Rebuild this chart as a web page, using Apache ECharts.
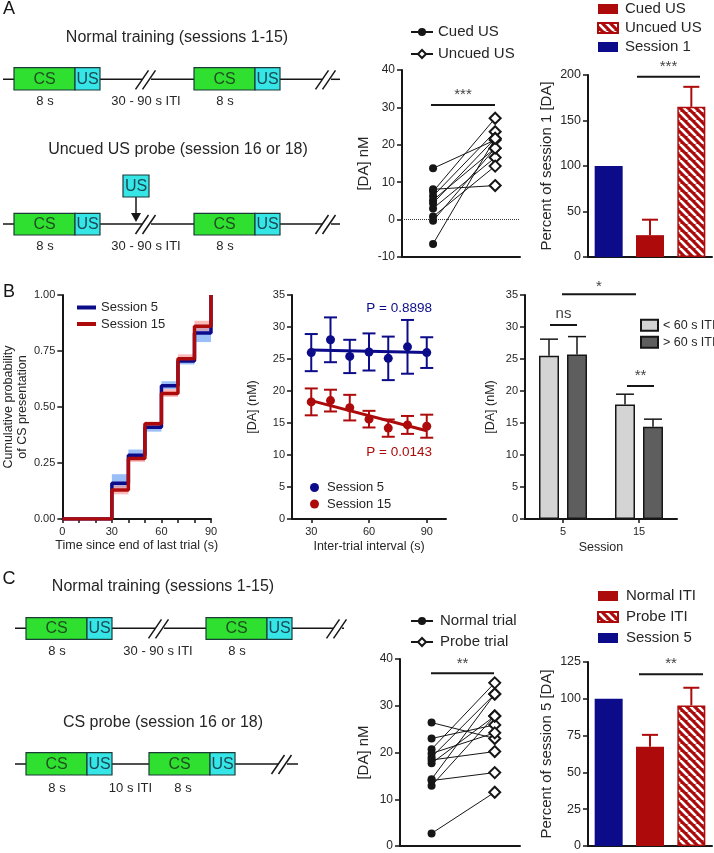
<!DOCTYPE html>
<html><head><meta charset="utf-8">
<script src="https://cdn.jsdelivr.net/npm/echarts@6/dist/echarts.min.js"></script>
<style>html,body{margin:0;padding:0;background:#fff}#c{width:714px;height:853px}</style>
</head><body><div id="c"></div>
<script>
// ================= DATA =================
// Panel A (middle): paired [DA] nM, cued vs uncued US
const aPairCued   = [13.7, 8.1, 7.5, 6.3, 5.2, 4.4, 3.0, 0.8, -0.3, -6.5];
const aPairUncued = [21.3, 9.1, 27.1, 23.5, 19.1, 21.7, 16.6, 14.3, 19.1, 21.7];
// Panel A (right): percent of session 1
const aBarCats = ['Session 1', 'Cued US', 'Uncued US'];
const aBarVals = [100, 24, 165];
const aBarErr  = [0, 17, 22];
// Panel B (left): cumulative probability of CS presentation
const bStepX   = [0, 30, 40, 50, 60, 70, 80, 90];
const bStepS5  = [0, 0.16, 0.285, 0.41, 0.595, 0.705, 0.83, 1.0];
const bStepS15 = [0, 0.13, 0.27, 0.425, 0.56, 0.715, 0.86, 1.0];
const bBandX0  = [30, 40, 50, 60, 70, 80];
const bBandX1  = [40, 50, 60, 70, 80, 90];
const bBandS5Lo  = [0.14, 0.27, 0.39, 0.58, 0.69, 0.79];
const bBandS5Hi  = [0.20, 0.31, 0.43, 0.615, 0.72, 0.855];
const bBandS15Lo = [0.11, 0.255, 0.405, 0.545, 0.70, 0.84];
const bBandS15Hi = [0.15, 0.29, 0.435, 0.58, 0.735, 0.885];
// Panel B (middle): [DA] vs inter-trial interval
const bItiX    = [30, 40, 50, 60, 70, 80, 90];
const bS5Mean  = [26.0, 28.0, 25.4, 26.1, 25.1, 26.9, 26.0];
const bS5Sem   = [2.9, 3.5, 2.6, 2.9, 3.4, 4.2, 2.4];
const bS15Mean = [18.3, 18.5, 17.4, 15.6, 14.2, 14.7, 14.5];
const bS15Sem  = [2.1, 1.7, 2.0, 1.3, 1.35, 1.4, 1.8];
const bFitX    = [30, 90];
const bFitS5   = [26.4, 26.0];
const bFitS15  = [18.5, 13.8];
const bPText   = ['P = 0.8898', 'P = 0.0143'];
// Panel B (right): [DA] by session and ITI
const bSessions = ['5', '15'];
const bShort    = [25.5, 17.9];
const bShortErr = [2.6, 1.6];
const bLong     = [25.7, 14.4];
const bLongErr  = [2.8, 1.2];
// Panel C (middle): paired [DA] nM, normal vs probe trial
const cNormal = [26.4, 23.0, 20.7, 19.8, 19.0, 18.4, 17.7, 14.3, 14.0, 12.9, 2.7];
const cProbe  = [23.0, 25.9, 34.9, 24.2, 32.5, 20.2, 27.8, 32.5, 15.7, 27.8, 11.5];
// Panel C (right): percent of session 5
const cBarCats = ['Session 5', 'Normal ITI', 'Probe ITI'];
const cBarVals = [100, 67.5, 95.5];
const cBarErr  = [0, 8, 12];

// ================= STYLE =================
const FONT = '"Liberation Sans", Arial, sans-serif';
const NAVY = '#0c0c8a', RED = '#ad0b0b', INK = '#161616', TXT = '#262626';
const CS_FILL = '#30e030', US_FILL = '#36e6e6', BOX_EDGE = '#1d3a3a';
const LABELS = {
  aCuedLeg: 'Cued US', aUncuedLeg: 'Uncued US',
  aBarS1: 'Session 1', aBarCued: 'Cued US', aBarUncued: 'Uncued US',
  bS5Line: 'Session 5', bS15Line: 'Session 15',
  bS5Pts: 'Session 5', bS15Pts: 'Session 15',
  bShortBar: '< 60 s ITI', bLongBar: '> 60 s ITI',
  cNormLeg: 'Normal trial', cProbeLeg: 'Probe trial',
  cBarS5: 'Session 5', cBarNorm: 'Normal ITI', cBarProbe: 'Probe ITI'
};

function hatch() {
  const c = document.createElement('canvas');
  c.width = 8; c.height = 8;
  const g = c.getContext('2d');
  g.fillStyle = RED; g.fillRect(0, 0, 8, 8);
  g.strokeStyle = '#ffffff'; g.lineWidth = 2.6;
  for (const k of [-8, 0, 8]) { g.beginPath(); g.moveTo(k, 0); g.lineTo(k + 8, 8); g.stroke(); }
  return c;
}
const HATCH = { image: hatch(), repeat: 'repeat' };

const axLine = { show: true, onZero: false, lineStyle: { color: INK, width: 2 } };
const yTick = { show: true, length: 5, lineStyle: { color: INK, width: 1.5 } };
function yAx(grid, min, max, interval, name, gap, fs, lblSize, fmt) {
  return {
    type: 'value', gridIndex: grid, min, max, interval,
    axisLine: axLine, axisTick: yTick, splitLine: { show: false },
    axisLabel: { color: TXT, fontSize: lblSize, fontFamily: FONT, margin: 7, formatter: fmt },
    name, nameLocation: 'middle', nameRotate: 90, nameGap: gap,
    nameTextStyle: { color: TXT, fontSize: fs, fontFamily: FONT, lineHeight: fs + 2 }
  };
}

// ================= GRAPHIC (diagrams & annotations) =================
const G = [];
function txt(x, y, s, size, color, align) {
  G.push({ type: 'text', x: x, y: y, z: 100,
    style: { text: s, font: size + 'px ' + FONT, fill: color || TXT, align: align || 'center', verticalAlign: 'middle' } });
}
function ln(x1, y1, x2, y2, w, color) {
  G.push({ type: 'line', z: 90, shape: { x1, y1, x2, y2 }, style: { stroke: color || INK, lineWidth: w || 1.5 } });
}
function box(x1, x2, y1, y2, fill, label, tcolor) {
  G.push({ type: 'rect', z: 95, shape: { x: x1, y: y1, width: x2 - x1, height: y2 - y1 },
    style: { fill, stroke: BOX_EDGE, lineWidth: 1.2 } });
  txt((x1 + x2) / 2, (y1 + y2) / 2 + 0.5, label, 16, tcolor);
}
function slashes(c, y) {
  ln(c - 10.5, y + 10, c + 2.5, y - 9, 1.5);
  ln(c - 3.5, y + 10, c + 9.5, y - 9, 1.5);
}
function timeline(y, xStart, xEnd, breaks) {
  let x = xStart;
  for (const b of breaks) { ln(x, y, b - 4, y, 1.5); slashes(b, y); x = b + 5; }
  if (x < xEnd) ln(x, y, xEnd, y, 1.5);
}
function trial(csX, y1, y2) {
  box(csX, csX + 61, y1, y2, CS_FILL, 'CS', '#1f4f1f');
  box(csX + 61, csX + 86, y1, y2, US_FILL, 'US', '#1a4a55');
}

// Panel letters
txt(9, 9, 'A', 18, INK); txt(9, 292, 'B', 18, INK); txt(9, 579, 'C', 18, INK);

// Panel A diagram
txt(177, 37.5, 'Normal training (sessions 1-15)', 16);
timeline(79.3, 3, 340, [146, 326]);
trial(14, 67.7, 90); trial(194, 67.7, 90);
txt(45, 101.7, '8 s', 13); txt(146, 101.7, '30 - 90 s ITI', 13); txt(225, 101.7, '8 s', 13);
txt(178, 150, 'Uncued US probe (session 16 or 18)', 16);
box(123, 149, 175, 197, US_FILL, 'US', '#1a4a55');
ln(136, 197, 136, 214, 1.5);
G.push({ type: 'polygon', z: 96, shape: { points: [[131, 213], [141, 213], [136, 222]] }, style: { fill: INK } });
timeline(224, 3, 340, [146, 326]);
trial(14, 213.3, 235); trial(194, 213.3, 235);
txt(45, 246.7, '8 s', 13); txt(146, 246.7, '30 - 90 s ITI', 13); txt(225, 246.7, '8 s', 13);

// Panel C diagram
txt(163, 586.7, 'Normal training (sessions 1-15)', 16);
timeline(628.3, 15, 344, [159, 337]);
trial(26, 617.7, 639.3); trial(206, 617.7, 639.3);
txt(57, 651, '8 s', 13); txt(158, 651, '30 - 90 s ITI', 13); txt(237, 651, '8 s', 13);
txt(163, 722.7, 'CS probe (session 16 or 18)', 16);
timeline(764, 15, 298, [282]);
trial(26, 752.7, 775); trial(149, 752.7, 775);
txt(57, 788.3, '8 s', 13); txt(130.5, 788.3, '10 s ITI', 13); txt(183, 788.3, '8 s', 13);

// Significance annotations
function sig(x1, x2, y, s, ty) { ln(x1, y, x2, y, 2, INK); txt((x1 + x2) / 2, ty, s, 15, '#444'); }
sig(431, 495, 105, '***', 95);
sig(637, 700, 76.7, '***', 67);
sig(562, 636, 294.3, '*', 287);
sig(550, 577, 325, 'ns', 314);
sig(627, 654, 386, '**', 376);
sig(431, 494, 673.3, '**', 664);
sig(639, 703, 674.3, '**', 664);
// P values
txt(432, 308, bPText[0], 13.5, NAVY, 'right');
txt(432, 452, bPText[1], 13.5, RED, 'right');

// ================= SERIES HELPERS =================
function errSeries(xi, yi, data, offset, capW, color, both, width) {
  return {
    type: 'custom', xAxisIndex: xi, yAxisIndex: yi, z: 6, silent: true, data,
    renderItem: function (p, api) {
      const x = api.value(0), y = api.value(1), e = api.value(2);
      const top = api.coord([x, y + e]);
      const bot = api.coord([x, both ? y - e : y]);
      const cx = top[0] + offset;
      const st = { stroke: color, lineWidth: width || 2 };
      const ch = [
        { type: 'line', shape: { x1: cx, y1: top[1], x2: cx, y2: bot[1] }, style: st },
        { type: 'line', shape: { x1: cx - capW / 2, y1: top[1], x2: cx + capW / 2, y2: top[1] }, style: st }
      ];
      if (both) ch.push({ type: 'line', shape: { x1: cx - capW / 2, y1: bot[1], x2: cx + capW / 2, y2: bot[1] }, style: st });
      return { type: 'group', children: ch };
    }
  };
}
function bandSeries(xi, yi, lo, hi, color) {
  return {
    type: 'custom', xAxisIndex: xi, yAxisIndex: yi, z: 1, silent: true,
    data: bBandX0.map((x, i) => [x, bBandX1[i], lo[i], hi[i]]),
    renderItem: function (p, api) {
      const a = api.coord([api.value(0), api.value(3)]);
      const b = api.coord([api.value(1), api.value(2)]);
      return { type: 'rect', shape: { x: a[0], y: a[1], width: b[0] - a[0], height: b[1] - a[1] }, style: { fill: color } };
    }
  };
}

const series = [];
// ---- A middle ----
aPairCued.forEach((v, i) => series.push({
  type: 'line', xAxisIndex: 0, yAxisIndex: 0, symbol: 'none', silent: true, z: 2,
  data: [[0, v], [1, aPairUncued[i]]], lineStyle: { color: INK, width: 1 }
}));
series.push({ type: 'line', name: 'aCuedLeg', xAxisIndex: 0, yAxisIndex: 0, data: [], symbol: 'circle', symbolSize: 8,
  itemStyle: { color: INK }, lineStyle: { color: INK, width: 1.5 } });
series.push({ type: 'line', name: 'aUncuedLeg', xAxisIndex: 0, yAxisIndex: 0, data: [], symbol: 'diamond', symbolSize: 11,
  itemStyle: { color: '#fff', borderColor: INK, borderWidth: 2 }, lineStyle: { color: INK, width: 1.5 } });
series.push({ type: 'scatter', xAxisIndex: 0, yAxisIndex: 0, z: 5, symbol: 'circle', symbolSize: 8,
  data: aPairCued.map(v => [0, v]), itemStyle: { color: INK, opacity: 1 },
  markLine: { silent: true, symbol: 'none', label: { show: false }, lineStyle: { type: 'dotted', color: '#333', width: 1 }, data: [{ yAxis: 0 }] } });
series.push({ type: 'scatter', xAxisIndex: 0, yAxisIndex: 0, z: 5, symbol: 'diamond', symbolSize: 11,
  data: aPairUncued.map(v => [1, v]), itemStyle: { color: '#fff', borderColor: INK, borderWidth: 2, opacity: 1 } });

// ---- A right ----
function threeBars(xi, yi, names, vals) {
  const styles = [{ color: NAVY }, { color: RED }, { color: HATCH, borderColor: RED, borderWidth: 1.5 }];
  names.forEach((n, k) => series.push({
    type: 'bar', name: n, xAxisIndex: xi, yAxisIndex: yi, barWidth: 28, barGap: '-100%', z: 3,
    data: vals.map((v, j) => (j === k ? v : '-')), itemStyle: styles[k]
  }));
}
threeBars(1, 1, ['aBarS1', 'aBarCued', 'aBarUncued'], aBarVals);
series.push(errSeries(1, 1, [[1, aBarVals[1], aBarErr[1]], [2, aBarVals[2], aBarErr[2]]], 0, 16, RED, false, 2));

// ---- B left ----
series.push(bandSeries(2, 2, bBandS5Lo, bBandS5Hi, 'rgba(120,170,245,0.75)'));
series.push(bandSeries(2, 2, bBandS15Lo, bBandS15Hi, 'rgba(245,140,140,0.6)'));
series.push({ type: 'line', name: 'bS5Line', xAxisIndex: 2, yAxisIndex: 2, step: 'end', symbol: 'none', z: 3,
  data: bStepX.map((x, i) => [x, bStepS5[i]]), lineStyle: { color: NAVY, width: 3.5 }, itemStyle: { color: NAVY } });
series.push({ type: 'line', name: 'bS15Line', xAxisIndex: 2, yAxisIndex: 2, step: 'end', symbol: 'none', z: 4,
  data: bStepX.map((x, i) => [x, bStepS15[i]]), lineStyle: { color: RED, width: 3.5 }, itemStyle: { color: RED } });

// ---- B middle ----
series.push(errSeries(3, 3, bItiX.map((x, i) => [x, bS5Mean[i], bS5Sem[i]]), 0, 13, NAVY, true, 2));
series.push(errSeries(3, 3, bItiX.map((x, i) => [x, bS15Mean[i], bS15Sem[i]]), 0, 13, RED, true, 2));
series.push({ type: 'line', xAxisIndex: 3, yAxisIndex: 3, symbol: 'none', silent: true, z: 4,
  data: bFitX.map((x, i) => [x, bFitS5[i]]), lineStyle: { color: NAVY, width: 3 } });
series.push({ type: 'line', xAxisIndex: 3, yAxisIndex: 3, symbol: 'none', silent: true, z: 4,
  data: bFitX.map((x, i) => [x, bFitS15[i]]), lineStyle: { color: RED, width: 3 } });
series.push({ type: 'scatter', name: 'bS5Pts', xAxisIndex: 3, yAxisIndex: 3, symbolSize: 9, z: 7,
  data: bItiX.map((x, i) => [x, bS5Mean[i]]), itemStyle: { color: NAVY, opacity: 1 } });
series.push({ type: 'scatter', name: 'bS15Pts', xAxisIndex: 3, yAxisIndex: 3, symbolSize: 9, z: 7,
  data: bItiX.map((x, i) => [x, bS15Mean[i]]), itemStyle: { color: RED, opacity: 1 } });

// ---- B right ----
series.push({ type: 'bar', name: 'bShortBar', xAxisIndex: 4, yAxisIndex: 4, barWidth: 20, barGap: '40%', z: 3,
  data: bShort, itemStyle: { color: '#d4d4d4', borderColor: INK, borderWidth: 1.5 } });
series.push({ type: 'bar', name: 'bLongBar', xAxisIndex: 4, yAxisIndex: 4, barWidth: 20, barGap: '40%', z: 3,
  data: bLong, itemStyle: { color: '#5e5e5e', borderColor: INK, borderWidth: 1.5 } });
series.push(errSeries(4, 4, bShort.map((v, i) => [i, v, bShortErr[i]]), -14, 18, INK, false, 1.5));
series.push(errSeries(4, 4, bLong.map((v, i) => [i, v, bLongErr[i]]), 14, 18, INK, false, 1.5));

// ---- C middle ----
cNormal.forEach((v, i) => series.push({
  type: 'line', xAxisIndex: 5, yAxisIndex: 5, symbol: 'none', silent: true, z: 2,
  data: [[0, v], [1, cProbe[i]]], lineStyle: { color: INK, width: 1 }
}));
series.push({ type: 'line', name: 'cNormLeg', xAxisIndex: 5, yAxisIndex: 5, data: [], symbol: 'circle', symbolSize: 8,
  itemStyle: { color: INK }, lineStyle: { color: INK, width: 1.5 } });
series.push({ type: 'line', name: 'cProbeLeg', xAxisIndex: 5, yAxisIndex: 5, data: [], symbol: 'diamond', symbolSize: 11,
  itemStyle: { color: '#fff', borderColor: INK, borderWidth: 2 }, lineStyle: { color: INK, width: 1.5 } });
series.push({ type: 'scatter', xAxisIndex: 5, yAxisIndex: 5, z: 5, symbol: 'circle', symbolSize: 8,
  data: cNormal.map(v => [0, v]), itemStyle: { color: INK, opacity: 1 } });
series.push({ type: 'scatter', xAxisIndex: 5, yAxisIndex: 5, z: 5, symbol: 'diamond', symbolSize: 11,
  data: cProbe.map(v => [1, v]), itemStyle: { color: '#fff', borderColor: INK, borderWidth: 2, opacity: 1 } });

// ---- C right ----
threeBars(6, 6, ['cBarS5', 'cBarNorm', 'cBarProbe'], cBarVals);
series.push(errSeries(6, 6, [[1, cBarVals[1], cBarErr[1]], [2, cBarVals[2], cBarErr[2]]], 0, 16, RED, false, 2));

// ================= AXES =================
const hiddenX = (grid, extra) => Object.assign({
  gridIndex: grid, axisLine: axLine, axisTick: { show: false }, axisLabel: { show: false }, splitLine: { show: false }
}, extra);
const xName = (name, gap) => ({ name, nameLocation: 'middle', nameGap: gap,
  nameTextStyle: { color: TXT, fontSize: 12.5, fontFamily: FONT } });
const xTick = { show: true, length: 4, lineStyle: { color: INK, width: 1.5 } };

const xAxis = [
  hiddenX(0, { type: 'value', min: -0.5, max: 1.4 }),
  hiddenX(1, { type: 'category', data: aBarCats }),
  Object.assign({ type: 'value', gridIndex: 2, min: 0, max: 90, interval: 10, axisLine: axLine, axisTick: xTick,
    splitLine: { show: false },
    axisLabel: { color: TXT, fontSize: 11, fontFamily: FONT, margin: 7, formatter: v => (v % 30 === 0 ? String(v) : '') } },
    xName('Time since end of last trial (s)', 20)),
  Object.assign({ type: 'value', gridIndex: 3, min: 20, max: 100, axisLine: axLine,
    axisTick: Object.assign({ customValues: [30, 60, 90] }, xTick), splitLine: { show: false },
    axisLabel: { customValues: [30, 60, 90], color: TXT, fontSize: 11, fontFamily: FONT, margin: 7 } },
    xName('Inter-trial interval (s)', 21)),
  Object.assign({ type: 'category', gridIndex: 4, data: bSessions, axisLine: axLine,
    axisTick: Object.assign({ alignWithLabel: true }, xTick), splitLine: { show: false },
    axisLabel: { color: TXT, fontSize: 11, fontFamily: FONT, margin: 7 } },
    xName('Session', 22)),
  hiddenX(5, { type: 'value', min: -0.5, max: 1.4 }),
  hiddenX(6, { type: 'category', data: cBarCats })
];
const yAxis = [
  yAx(0, -10, 40, 10, '[DA] nM', 30, 15, 12),
  yAx(1, 0, 200, 50, 'Percent of session 1 [DA]', 33, 15, 12.5),
  yAx(2, 0, 1, 0.25, 'Cumulative probability\nof CS presentation', 30, 12.5, 11, v => v.toFixed(2)),
  yAx(3, 0, 35, 5, '[DA] (nM)', 32, 12.5, 11),
  yAx(4, 0, 35, 5, '[DA] (nM)', 27, 12.5, 11),
  yAx(5, 0, 40, 10, '[DA] nM', 28, 15, 12),
  yAx(6, 0, 125, 25, 'Percent of session 5 [DA]', 33, 15, 12.5)
];

// ================= LEGENDS =================
function leg(data, left, top, gap, fs, w, h, pad, extra) {
  return Object.assign({
    data, left, top, orient: 'vertical', itemGap: gap, itemWidth: w, itemHeight: h, selectedMode: false,
    formatter: n => LABELS[n],
    textStyle: { color: TXT, fontSize: fs, fontFamily: FONT, lineHeight: fs + 1, padding: [0, 0, 0, pad] }
  }, extra || {});
}
const legend = [
  leg(['aCuedLeg', 'aUncuedLeg'], 405, 19, 6, 15, 22, 10, 0),
  leg(['aBarCued', 'aBarUncued', 'aBarS1'], 592, -4, 3, 15, 20, 10, 2, { icon: 'rect' }),
  leg(['bS5Line', 'bS15Line'], 72, 295.5, 2.5, 13, 19, 4, 0, { icon: 'rect' }),
  leg(['bS5Pts', 'bS15Pts'], 305, 475.5, 2.5, 13, 9, 9, 3),
  leg(['bShortBar', 'bLongBar'], 635, 313.5, 3.5, 12.5, 17, 11, 0, { icon: 'rect' }),
  leg(['cNormLeg', 'cProbeLeg'], 405, 608, 5, 15, 22, 10, 2),
  leg(['cBarNorm', 'cBarProbe', 'cBarS5'], 592, 583, 5, 15, 20, 10, 3, { icon: 'rect' })
];

const option = {
  animation: false,
  backgroundColor: '#ffffff',
  textStyle: { fontFamily: FONT },
  grid: [
    { left: 402, top: 70, width: 118, height: 187 },
    { left: 588, top: 75, width: 124, height: 182 },
    { left: 60, top: 295, width: 151, height: 224 },
    { left: 292, top: 295, width: 154, height: 224 },
    { left: 525, top: 295, width: 152, height: 224 },
    { left: 400, top: 659, width: 120, height: 187 },
    { left: 588, top: 662, width: 124, height: 184 }
  ],
  xAxis, yAxis, legend, series,
  graphic: { elements: G }
};
const chart = echarts.init(document.getElementById('c'), null, { renderer: 'canvas', width: 714, height: 853 });
chart.setOption(option);
</script>
</body></html>
